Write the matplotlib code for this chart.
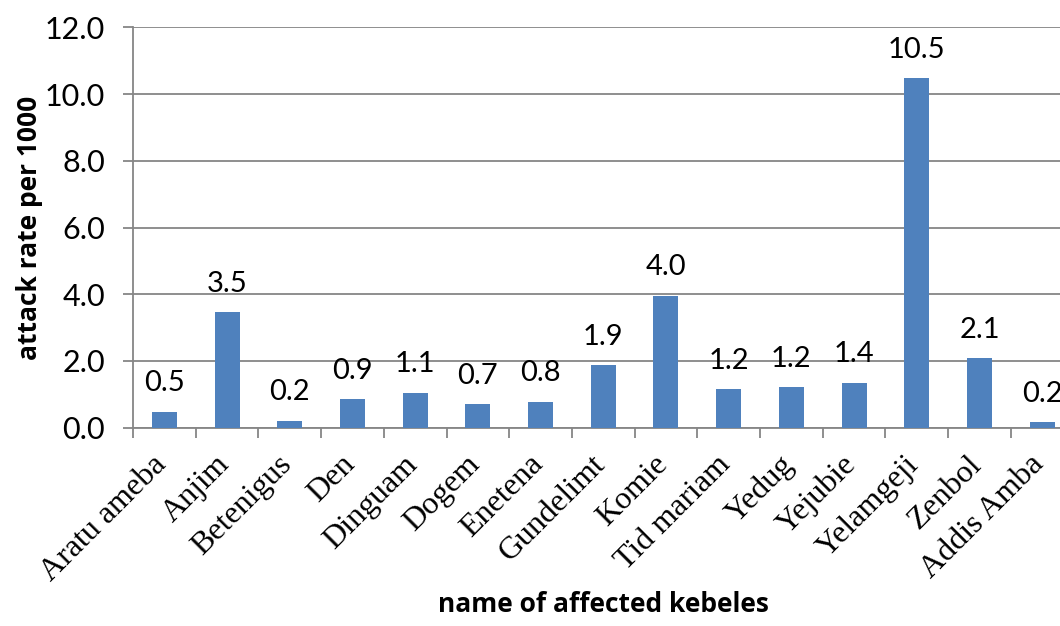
import matplotlib
matplotlib.use("Agg")
import matplotlib.pyplot as plt
import numpy as np

categories = ["Aratu ameba", "Anjim", "Betenigus", "Den", "Dinguam", "Dogem",
              "Enetena", "Gundelimt", "Komie", "Tid mariam", "Yedug", "Yejubie",
              "Yelamgeji", "Zenbol", "Addis Amba"]
values = [0.48, 3.46, 0.21, 0.86, 1.05, 0.70, 0.78, 1.88, 3.96, 1.16, 1.21, 1.35, 10.47, 2.08, 0.17]
y_ticks = [0, 2, 4, 6, 8, 10, 12]

W, H = 1060, 626
fig = plt.figure(figsize=(W / 100, H / 100), dpi=100)
ax = fig.add_axes([133 / W, 1 - 427.7 / H, 940.5 / W, 400.4 / H])

x = np.arange(len(categories))
bar_color = "#4F81BD"
grid_color = "#868686"
ax.bar(x, values, width=0.4, color=bar_color, zorder=3)

ax.set_xlim(-0.5, len(categories) - 0.5)
ax.set_ylim(0, 12)
ax.set_yticks(y_ticks)
ax.set_yticklabels([f"{v:.1f}" for v in y_ticks], fontfamily="Lato", fontsize=22)
ax.yaxis.grid(True, color=grid_color, linewidth=1.3, zorder=0)
ax.tick_params(axis="y", length=7, color=grid_color, width=1.3, pad=13)

ax.set_xticks(x)
ax.set_xticklabels([])
ax.set_xticks(np.arange(-0.5, len(categories), 1), minor=True)
ax.tick_params(axis="x", which="major", length=0)
ax.tick_params(axis="x", which="minor", length=7, color=grid_color, width=1.3)

for s in ["top", "right"]:
    ax.spines[s].set_visible(False)
for s in ["left", "bottom"]:
    ax.spines[s].set_color(grid_color)
    ax.spines[s].set_linewidth(1.3)

for xi, v in zip(x, values):
    ax.annotate(f"{v:.1f}", (xi, v), xytext=(0, 11), textcoords="offset points",
                ha="center", va="bottom", fontfamily="Lato", fontsize=21)

trans = ax.get_xaxis_transform()
for xi, c in zip(x, categories):
    ax.annotate(c, (xi, 0), xycoords=trans, xytext=(-9, -16), textcoords="offset points",
                rotation=45, ha="right", va="top", rotation_mode="anchor",
                fontfamily="Liberation Serif", fontsize=23)

fig.text(603 / W, 1 - 604 / H, "name of affected kebeles", ha="center", va="center",
         fontfamily="Open Sans", fontweight="bold", fontsize=19)
fig.text(30 / W, 1 - 228 / H, "attack rate per 1000", ha="center", va="center",
         rotation=90, fontfamily="Open Sans", fontweight="bold", fontsize=19)

fig.savefig("out.png", dpi=100)
